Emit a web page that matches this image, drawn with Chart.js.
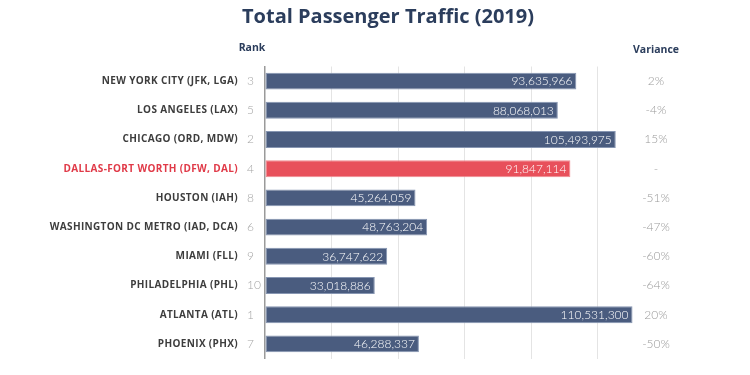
<!DOCTYPE html>
<html><head><meta charset="utf-8">
<script src="https://cdn.jsdelivr.net/npm/chart.js"></script>
<style>html,body{margin:0;padding:0;background:#fff}</style>
</head><body>
<canvas id="c" width="750" height="375"></canvas>
<script>
const categories = ['NEW YORK CITY (JFK, LGA)','LOS ANGELES (LAX)','CHICAGO (ORD, MDW)','DALLAS-FORT WORTH (DFW, DAL)','HOUSTON (IAH)','WASHINGTON DC METRO (IAD, DCA)','MIAMI (FLL)','PHILADELPHIA (PHL)','ATLANTA (ATL)','PHOENIX (PHX)'];
const ranks = ['3','5','2','4','8','6','9','10','1','7'];
const traffic = [93635966, 88068013, 105493975, 91847114, 45264059, 48763204, 36747622, 33018886, 110531300, 46288337];
const variance = ['2%','-4%','15%','-','-51%','-47%','-60%','-64%','20%','-50%'];
const highlightIndex = 3;
const gridStep = 20000000;
const axisMax = 120000000;
const titleText = 'Total Passenger Traffic (2019)';

const NAVY = '#2b3d5c', BAR = '#4a5c7f', RED = '#e8505b';

const textPlugin = {
  id: 'texts',
  afterDraw(chart) {
    const ctx = chart.ctx, y = chart.scales.y, x = chart.scales.x;
    ctx.save();
    ctx.textBaseline = 'middle';
    ctx.fillStyle = NAVY;
    ctx.font = '700 20px "Open Sans"';
    ctx.textAlign = 'center';
    ctx.fillText(titleText, 388, 17);
    ctx.font = '700 10.5px "Open Sans"';
    ctx.fillText('Rank', 252, 48);
    ctx.fillText('Variance', 656, 50);
    categories.forEach((c, i) => {
      const py = y.getPixelForValue(i);
      ctx.letterSpacing = '0.35px';
      ctx.font = '700 10px "Open Sans"';
      ctx.textAlign = 'right';
      ctx.fillStyle = i === highlightIndex ? '#e03a48' : '#3d3d3d';
      ctx.fillText(c, 238, py);
      ctx.letterSpacing = '0px';
      ctx.font = '300 12px Lato';
      ctx.fillStyle = '#a5a5a5';
      ctx.textAlign = 'left';
      ctx.fillText(ranks[i], 247, py);
      ctx.textAlign = 'center';
      ctx.fillStyle = '#9a9a9a';
      ctx.font = '300 12px Lato';
      ctx.fillText(variance[i], 656, py);
      ctx.textAlign = 'right';
      ctx.fillStyle = '#ffffff';
      ctx.font = '300 12px Lato';
      ctx.fillText(traffic[i].toLocaleString('en-US'), x.getPixelForValue(traffic[i]) - 4, py + 0.5);
    });
    ctx.restore();
  }
};

new Chart(document.getElementById('c'), {
  type: 'bar',
  data: {
    labels: categories,
    datasets: [{
      data: traffic,
      backgroundColor: traffic.map((v, i) => i === highlightIndex ? RED : BAR),
      borderColor: traffic.map((v, i) => i === highlightIndex ? '#f08a90' : '#8796b2'),
      borderWidth: 1,
      borderSkipped: false,
      barPercentage: 0.58,
      categoryPercentage: 1
    }]
  },
  options: {
    indexAxis: 'y',
    responsive: false,
    animation: false,
    devicePixelRatio: 1,
    layout: { padding: { left: 265, right: 86, top: 66.5, bottom: 16.5 } },
    plugins: { legend: { display: false }, tooltip: { enabled: false } },
    scales: {
      x: {
        min: 0, max: axisMax,
        afterFit(s) { s.height = 0; },
        ticks: { display: false, stepSize: gridStep },
        border: { display: false },
        grid: {
          drawTicks: false,
          lineWidth: 1,
          color: c => (c.tick && c.tick.value > 0 && c.tick.value < axisMax) ? '#e4e4e4' : 'rgba(0,0,0,0)'
        }
      },
      y: {
        afterFit(s) { s.width = 0; },
        ticks: { display: false },
        grid: { display: false, drawTicks: false },
        border: { display: true, color: '#9a9a9a', width: 1.5 }
      }
    }
  },
  plugins: [textPlugin]
});
</script>
</body></html>
